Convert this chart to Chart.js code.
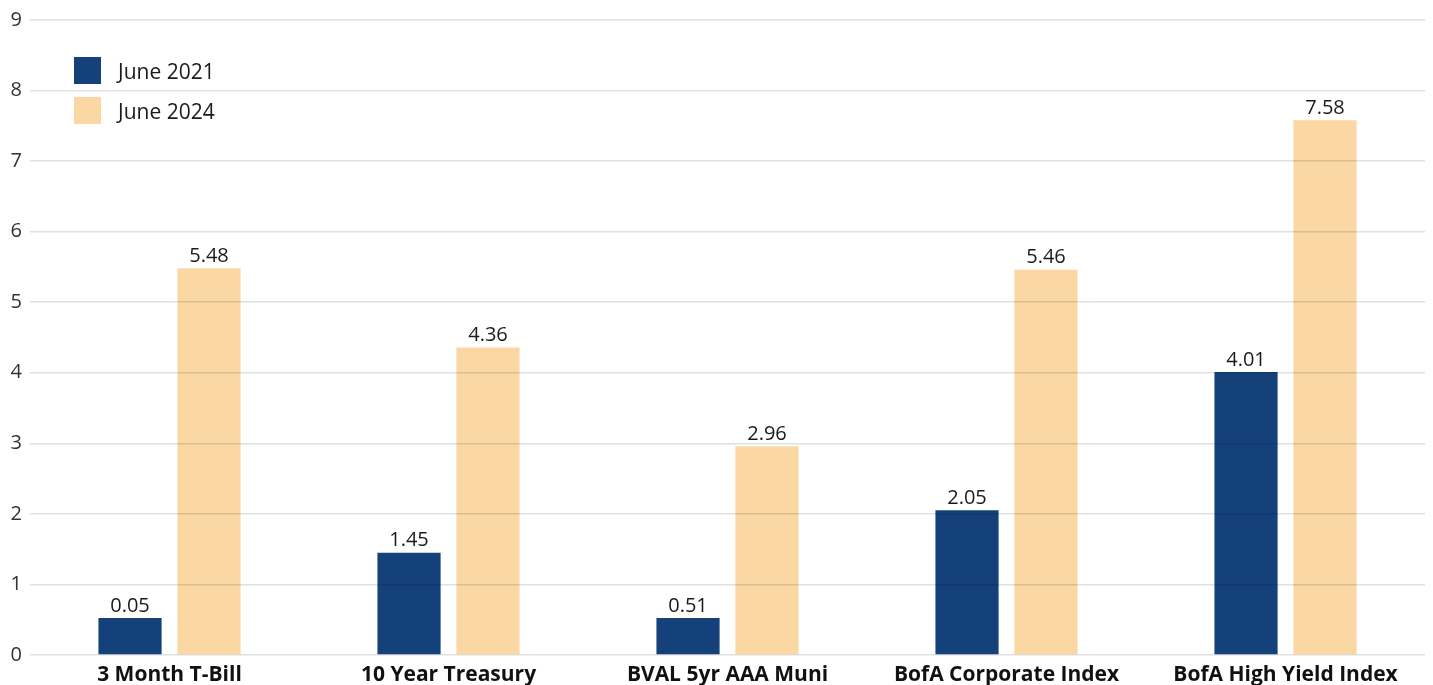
<!DOCTYPE html>
<html>
<head>
  <meta charset="utf-8">
  <title>Yields</title>
  <script src="https://cdn.jsdelivr.net/npm/chart.js@4.4.0/dist/chart.umd.min.js"></script>
  <style>
    html, body { margin: 0; padding: 0; background: #fff; }
    #wrap { position: relative; width: 1433px; height: 685px; }
    #legend { position: absolute; left: 74px; top: 57px; font-family: "Open Sans", sans-serif; font-size: 21px; color: #1a1a1a; }
    .item { display: flex; align-items: center; height: 27px; margin-bottom: 13px; }
    .box { width: 27px; height: 27px; margin-right: 17px; }
  </style>
</head>
<body>
  <div id="wrap">
    <canvas id="myChart" width="1433" height="685"></canvas>
    <div id="legend"></div>
  </div>
  <script type="text/javascript">
    var categories = ["3 Month T-Bill", "10 Year Treasury", "BVAL 5yr AAA Muni", "BofA Corporate Index", "BofA High Yield Index"];
    var seriesNames = ["June 2021", "June 2024"];
    var june2021 = [0.05, 1.45, 0.51, 2.05, 4.01];
    var june2024 = [5.48, 4.36, 2.96, 5.46, 7.58];
    var COLORS = ["#15417a", "#fad7a3"];

    // value labels over each bar
    var valueLabels = {
      id: 'valueLabels',
      afterDatasetsDraw: function(chart) {
        var ctx = chart.ctx;
        ctx.save();
        ctx.font = '20px "Open Sans"';
        ctx.fillStyle = '#1a1a1a';
        ctx.textAlign = 'center';
        ctx.textBaseline = 'bottom';
        chart.data.datasets.forEach(function(ds, i) {
          chart.getDatasetMeta(i).data.forEach(function(bar, j) {
            ctx.fillText(ds.data[j].toFixed(2), bar.x, bar.y - 2);
          });
        });
        ctx.restore();
      }
    };

    var datasets = [june2021, june2024].map(function(vals, i) {
      return {
        label: seriesNames[i],
        data: vals,
        backgroundColor: COLORS[i],
        minBarLength: 37,
        categoryPercentage: 0.566,
        barPercentage: 0.8
      };
    });

    var legend = document.getElementById("legend");
    seriesNames.forEach(function(name, i) {
      var d = document.createElement("div");
      d.className = "item";
      d.innerHTML = '<span class="box" style="background:' + COLORS[i] + '"></span>' + name;
      legend.appendChild(d);
    });

    var myBarChart = new Chart(document.getElementById("myChart"), {
      type: 'bar',
      data: { labels: categories, datasets: datasets },
      options: {
        responsive: false,
        animation: false,
        layout: { padding: { top: 13, right: 8, left: 0, bottom: 0 } },
        plugins: { legend: { display: false }, tooltip: { enabled: false } },
        scales: {
          x: {
            grid: { display: false, drawTicks: false },
            border: { display: false },
            ticks: { padding: 7, color: '#111', font: { family: 'Open Sans', size: 21, weight: 'bold' }, maxRotation: 0 },
            afterFit: function(s) { s.height = 30; }
          },
          y: {
            min: 0, max: 9,
            grid: { color: 'rgba(0,0,0,0.12)', lineWidth: 1.5, drawTicks: false, z: 1 },
            border: { display: false },
            ticks: { stepSize: 1, padding: 8, color: '#333', font: { family: 'Open Sans', size: 20 } },
            afterFit: function(s) { s.width = 30; }
          }
        }
      },
      plugins: [valueLabels]
    });
  </script>
</body>
</html>
